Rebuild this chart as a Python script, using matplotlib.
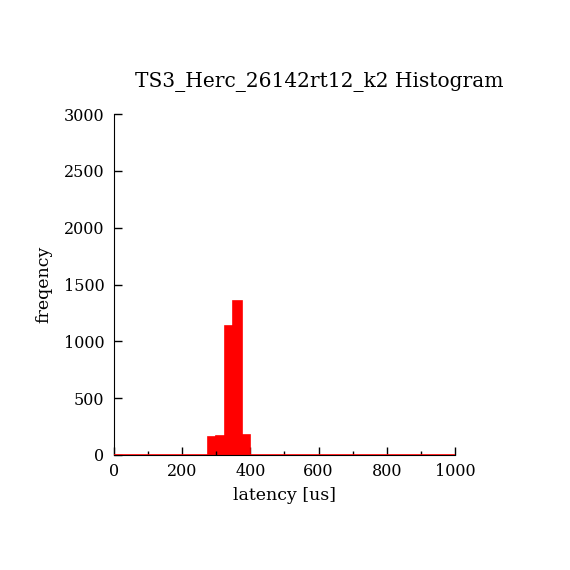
import matplotlib
matplotlib.use("Agg")
import matplotlib.pyplot as plt
import numpy as np

title = "TS3_Herc_26142rt12_k2 Histogram"
bin_edges = np.arange(0, 1025, 25)
counts = np.zeros(len(bin_edges) - 1)
filled_bins = [275, 300, 325, 350, 375]
filled_counts = [161, 170, 1137, 1357, 176]
for b, c in zip(filled_bins, filled_counts):
    counts[int(b // 25)] = c

plt.rcParams['font.family'] = ['DejaVu Serif']
fig = plt.figure(figsize=(5.7, 5.7), dpi=100)
ax = fig.add_axes([0.2, 0.2018, 0.598, 0.598])
ax.stairs(counts, bin_edges, fill=True, color='red', linewidth=0)
ax.stairs(counts, bin_edges, fill=False, color='red', linewidth=1.2, zorder=3)
ax.set_xlim(0, 1000)
ax.set_ylim(0, 3000)
ax.spines['top'].set_visible(False)
ax.spines['right'].set_visible(False)
ax.set_xticks(np.arange(0, 1001, 200))
ax.set_xticks(np.arange(100, 1000, 200), minor=True)
ax.set_yticks(np.arange(0, 3001, 500))
ax.tick_params(axis='both', which='major', direction='in', length=6, labelsize=11.5, width=1)
ax.tick_params(axis='y', which='major', pad=7)
ax.tick_params(axis='x', which='major', pad=6)
ax.tick_params(axis='x', which='minor', direction='in', length=3, width=1)
ax.set_xlabel("latency [us]", fontsize=12.5, labelpad=5)
ax.set_ylabel("freqency", fontsize=12.5, labelpad=8)
fig.text(135/570, 1 - 82/570, title, fontsize=14.5, ha='left', va='center')
fig.savefig("out.png", dpi=100)
